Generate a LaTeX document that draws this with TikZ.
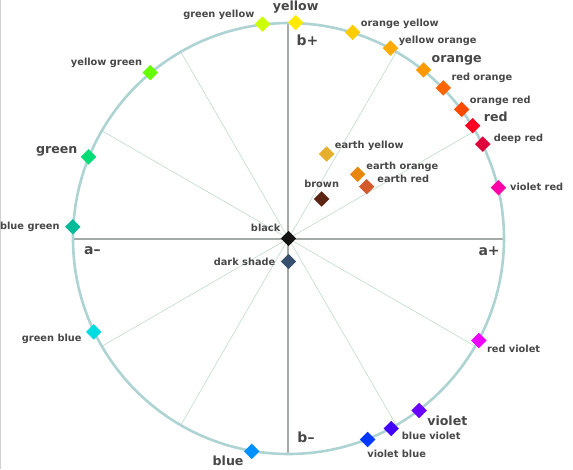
\documentclass[tikz,border=0pt]{standalone}
\usepackage{fontspec}
\setmainfont{DejaVu Sans}
\usetikzlibrary{positioning,shapes.geometric}
\definecolor{rimc}{HTML}{AED3D3}
\definecolor{axc}{HTML}{A4ABA6}
\definecolor{spc}{HTML}{BFDCCB}
\definecolor{txt}{HTML}{474747}
\definecolor{cyel}{HTML}{FFEA00}
\definecolor{cgy}{HTML}{CCFF00}
\definecolor{coy}{HTML}{FFCC00}
\definecolor{cyo}{HTML}{FFAA00}
\definecolor{cora}{HTML}{FF9900}
\definecolor{cro}{HTML}{FF6600}
\definecolor{cor}{HTML}{FF4A00}
\definecolor{cred}{HTML}{FF0022}
\definecolor{cdr}{HTML}{E0003C}
\definecolor{cvr}{HTML}{FF00A8}
\definecolor{crv}{HTML}{EE00FF}
\definecolor{cvio}{HTML}{6A00FF}
\definecolor{cbv}{HTML}{4400FF}
\definecolor{cvb}{HTML}{0038FF}
\definecolor{cblu}{HTML}{0090FF}
\definecolor{cgb}{HTML}{00DDE0}
\definecolor{cbg}{HTML}{00BB99}
\definecolor{cgrn}{HTML}{00DD77}
\definecolor{cyg}{HTML}{66FF00}
\definecolor{cblk}{HTML}{141414}
\definecolor{cds}{HTML}{36506E}
\definecolor{cbrn}{HTML}{5C2412}
\definecolor{cey}{HTML}{E6B02E}
\definecolor{ceo}{HTML}{E8860E}
\definecolor{cer}{HTML}{D45A2C}
\begin{document}
\begin{tikzpicture}[x=1pt,y=1pt, text=txt, font=\bfseries\fontsize{9.8}{10}\selectfont,
  dia/.style={diamond,fill=#1,minimum size=15.6pt,inner sep=0pt},
  lbl/.style={inner sep=0pt}, big/.style={inner sep=0pt,font=\bfseries\fontsize{12.6}{13}\selectfont},
  axl/.style={inner sep=0pt,anchor=west,font=\bfseries\fontsize{14}{15}\selectfont},
  spoke/.style={spc,line width=0.6pt}, axis/.style={axc,line width=2pt}]
  \useasboundingbox (-288.5,-230.5) rectangle (284.5,238.5);
  \draw[black!18,line width=0.8pt] (-288,238.5) -- (-288,-230.5);
  \coordinate (o) at (0,0);
  % hue lines, axes and rim
  \foreach \a in {30,60,120,150,210,240,300,330} \draw[spoke] (o) -- (\a:215.5);
  \coordinate (aw) at (180:215.5); \coordinate (ae) at (0:215.5);
  \coordinate (bn) at (90:215.5); \coordinate (bs) at (270:215.5);
  \draw[axis] (aw) -- (ae); \draw[axis] (bn) -- (bs);
  \draw[rimc,line width=2.6pt] (o) circle (215.5);
  \node[axl] (bp) at (8,198.5) {b+};
  \node[axl] (am) at (-204.5,-12.2) {a--};
  \node[axl] (ap) at (189.8,-13.2) {a+};
  \node[axl] (bm) at (8.8,-198.8) {b--};
  % hues on the rim
  \node[dia=cyel](yel) at (88.1:216){};  \node[big,above=1pt of yel]{yellow};
  \node[dia=cgy](gy) at (96.9:216){};    \node[lbl,left=0pt of gy,yshift=9.3pt]{green yellow};
  \node[dia=coy](oy) at (72.7:216){};    \node[lbl,right=0pt of oy,yshift=8.7pt]{orange yellow};
  \node[dia=cyo](yo) at (61.8:216){};    \node[lbl,right=0pt of yo,yshift=7.3pt]{yellow orange};
  \node[dia=cora](ora) at (51.3:216){};  \node[big,right=0pt of ora,yshift=9.3pt]{orange};
  \node[dia=cro](ro) at (44.2:216){};    \node[lbl,right=0pt of ro,yshift=10.4pt]{red orange};
  \node[dia=cor](orr) at (36.7:216){};   \node[lbl,right=0pt of orr,yshift=8.6pt]{orange red};
  \node[dia=cred](red) at (31.5:216){};  \node[big,right=3pt of red,yshift=8.4pt]{red};
  \node[dia=cdr](dr) at (25.9:216){};    \node[lbl,right=2.8pt of dr,yshift=5.3pt]{deep red};
  \node[dia=cvr](vr) at (13.6:216){};    \node[lbl,right=3.5pt of vr,yshift=1pt]{violet red};
  \node[dia=crv](rv) at (-28.2:216){};   \node[lbl,right=0pt of rv,yshift=-8.6pt]{red violet};
  \node[dia=cvio](vio) at (-52.8:216){}; \node[big,right=0pt of vio,yshift=-10pt]{violet};
  \node[dia=cbv](bv) at (-61.6:216){};   \node[lbl,right=2.5pt of bv,yshift=-7pt]{blue violet};
  \node[dia=cvb](vb) at (-68.5:216){};   \node[lbl,right=-8.5pt of vb,yshift=-14pt]{violet blue};
  \node[dia=cblu](blu) at (260.2:216){}; \node[big,left=0pt of blu,yshift=-9.3pt]{blue};
  \node[dia=cgb](gb) at (205.6:216){};   \node[lbl,left=4pt of gb,yshift=-7.3pt]{green blue};
  \node[dia=cbg](bg) at (176.9:216){};   \node[lbl,left=5pt of bg]{blue green};
  \node[dia=cgrn](grn) at (157.8:216){}; \node[big,left=3pt of grn,yshift=5.7pt]{green};
  \node[dia=cyg](yg) at (129.8:216){};   \node[lbl,left=0pt of yg,yshift=9.4pt]{yellow green};
  % inner colours
  \node[dia=cblk](blk) at (o){};         \node[lbl,left=0pt of blk,yshift=11pt]{black};
  \node[dia=cds](ds) at (0,-23){};       \node[lbl,left=5pt of ds]{dark shade};
  \node[dia=cbrn](brn) at (33.2,39.5){}; \node[lbl,above=2.7pt of brn]{brown};
  \node[dia=cey](ey) at (38.2,84.5){};   \node[lbl,right=0pt of ey,yshift=8.3pt]{earth yellow};
  \node[dia=ceo](eo) at (69.2,64.2){};   \node[lbl,right=0.5pt of eo,yshift=7.6pt]{earth orange};
  \node[dia=cer](er) at (78.2,51.8){};   \node[lbl,right=2.5pt of er,yshift=7.4pt]{earth red};
\end{tikzpicture}
\end{document}
